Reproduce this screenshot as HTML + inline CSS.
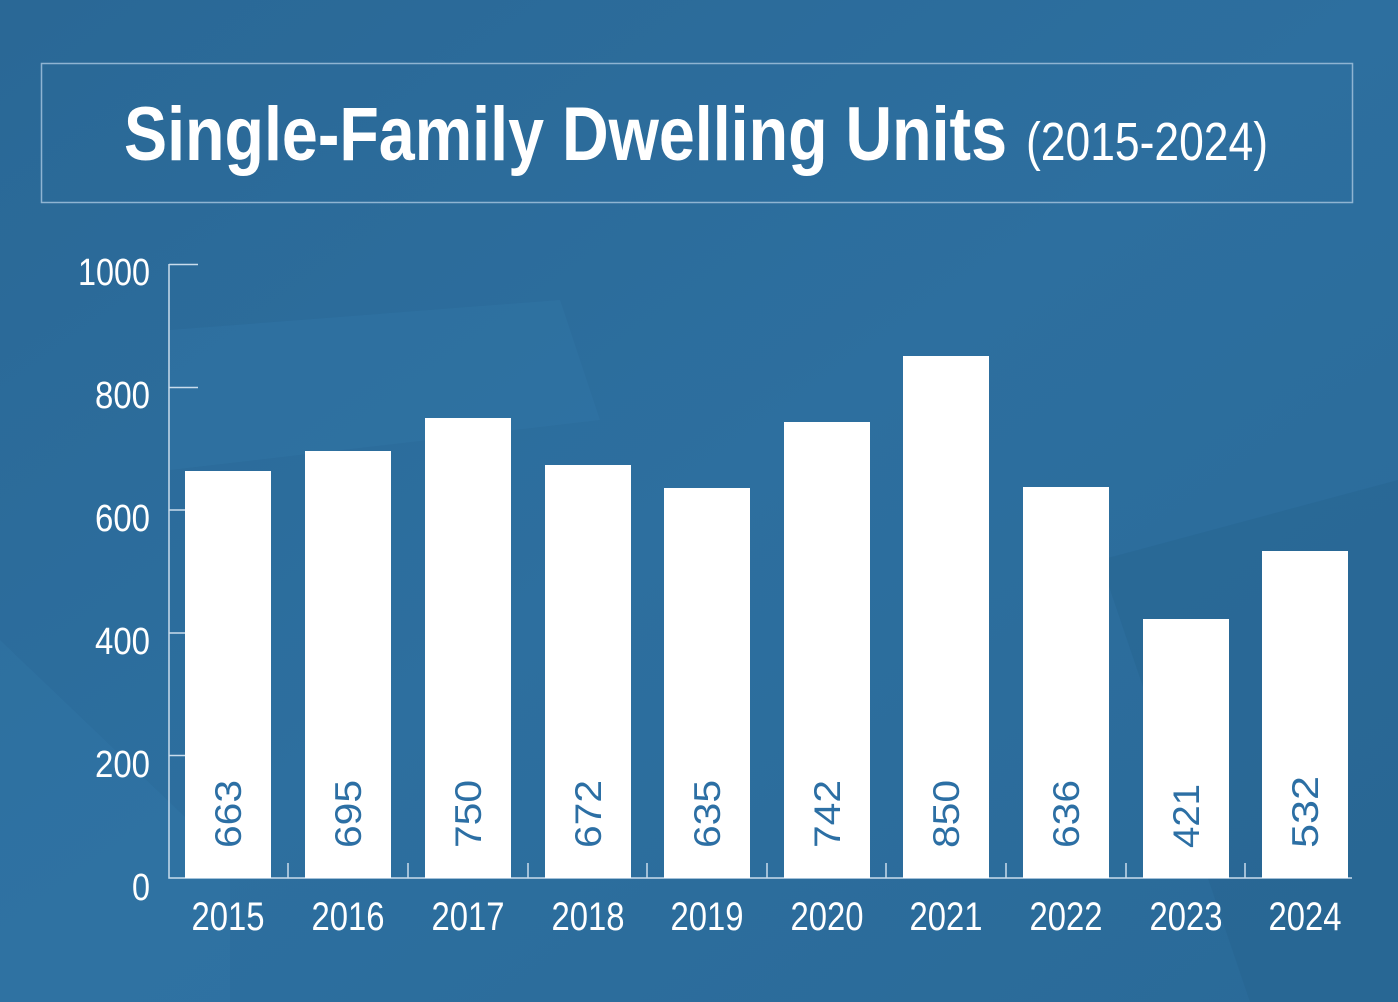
<!DOCTYPE html>
<html><head><meta charset="utf-8"><style>
html,body{margin:0;padding:0;}
body{width:1398px;height:1002px;overflow:hidden;background:#2b6c9b;}
svg{display:block;}
</style></head><body>
<svg width="1398" height="1002" xmlns="http://www.w3.org/2000/svg" font-family="Liberation Sans, sans-serif">
<defs>
<linearGradient id="bg" x1="0" y1="0" x2="1" y2="1">
<stop offset="0" stop-color="#2a6896"/>
<stop offset="0.5" stop-color="#2d6f9f"/>
<stop offset="1" stop-color="#2a6a98"/>
</linearGradient>
</defs>
<rect width="1398" height="1002" fill="url(#bg)"/>
<path d="M0 640 L230 860 L230 1002 L0 1002Z" fill="#3379aa" opacity="0.35"/>
<path d="M170 330 L560 300 L600 420 L170 470Z" fill="#3478a8" opacity="0.35"/>
<path d="M1100 560 L1398 480 L1398 1002 L1250 1002Z" fill="#25608c" opacity="0.35"/>
<rect x="41.5" y="63.5" width="1311" height="139" fill="none" stroke="#8fb4d2" stroke-width="1.5"/>
<text x="124" y="160" font-size="76" font-weight="bold" fill="#fff" textLength="883" lengthAdjust="spacingAndGlyphs">Single-Family Dwelling Units</text>
<text x="1026" y="160" font-size="54" fill="#fff" textLength="242" lengthAdjust="spacingAndGlyphs">(2015-2024)</text>
<g fill="#fff" font-size="38" text-anchor="end">
<text x="150" y="285" textLength="72" lengthAdjust="spacingAndGlyphs">1000</text>
<text x="150" y="408" textLength="55" lengthAdjust="spacingAndGlyphs">800</text>
<text x="150" y="531" textLength="55" lengthAdjust="spacingAndGlyphs">600</text>
<text x="150" y="654" textLength="55" lengthAdjust="spacingAndGlyphs">400</text>
<text x="150" y="777" textLength="55" lengthAdjust="spacingAndGlyphs">200</text>
<text x="150" y="900" textLength="18" lengthAdjust="spacingAndGlyphs">0</text>
</g>
<g stroke="#c9dcec" stroke-width="1.5" fill="none">
<path d="M169 264 V878 H1352"/>
<path d="M169 264.5 H198 M169 387.5 H198 M169 510 H198 M169 633 H198 M169 755.5 H198"/>
<path d="M288 878 V863 M408 878 V863 M528 878 V863 M647 878 V863 M767 878 V863 M886 878 V863 M1006 878 V863 M1126 878 V863 M1245 878 V863"/>
</g>
<g fill="#fff">
<rect x="185" y="471" width="86" height="407"/>
<rect x="305" y="451" width="86" height="427"/>
<rect x="425" y="418" width="86" height="460"/>
<rect x="545" y="465" width="86" height="413"/>
<rect x="664" y="488" width="86" height="390"/>
<rect x="784" y="422" width="86" height="456"/>
<rect x="903" y="356" width="86" height="522"/>
<rect x="1023" y="487" width="86" height="391"/>
<rect x="1143" y="619" width="86" height="259"/>
<rect x="1262" y="551" width="86" height="327"/>
</g>
<g fill="#2c6fa4" font-size="37">
<text transform="translate(241,848) rotate(-90)" textLength="68" lengthAdjust="spacingAndGlyphs">663</text>
<text transform="translate(361,848) rotate(-90)" textLength="68" lengthAdjust="spacingAndGlyphs">695</text>
<text transform="translate(481,848) rotate(-90)" textLength="68" lengthAdjust="spacingAndGlyphs">750</text>
<text transform="translate(601,848) rotate(-90)" textLength="68" lengthAdjust="spacingAndGlyphs">672</text>
<text transform="translate(720,848) rotate(-90)" textLength="68" lengthAdjust="spacingAndGlyphs">635</text>
<text transform="translate(840,848) rotate(-90)" textLength="68" lengthAdjust="spacingAndGlyphs">742</text>
<text transform="translate(959,848) rotate(-90)" textLength="68" lengthAdjust="spacingAndGlyphs">850</text>
<text transform="translate(1079,848) rotate(-90)" textLength="68" lengthAdjust="spacingAndGlyphs">636</text>
<text transform="translate(1199,848) rotate(-90)" textLength="64" lengthAdjust="spacingAndGlyphs">421</text>
<text transform="translate(1318,848) rotate(-90)" textLength="72" lengthAdjust="spacingAndGlyphs">532</text>
</g>
<g fill="#fff" font-size="40" text-anchor="middle">
<text x="228" y="930" textLength="73" lengthAdjust="spacingAndGlyphs">2015</text>
<text x="348" y="930" textLength="73" lengthAdjust="spacingAndGlyphs">2016</text>
<text x="468" y="930" textLength="73" lengthAdjust="spacingAndGlyphs">2017</text>
<text x="588" y="930" textLength="73" lengthAdjust="spacingAndGlyphs">2018</text>
<text x="707" y="930" textLength="73" lengthAdjust="spacingAndGlyphs">2019</text>
<text x="827" y="930" textLength="73" lengthAdjust="spacingAndGlyphs">2020</text>
<text x="946" y="930" textLength="73" lengthAdjust="spacingAndGlyphs">2021</text>
<text x="1066" y="930" textLength="73" lengthAdjust="spacingAndGlyphs">2022</text>
<text x="1186" y="930" textLength="73" lengthAdjust="spacingAndGlyphs">2023</text>
<text x="1305" y="930" textLength="73" lengthAdjust="spacingAndGlyphs">2024</text>
</g>
</svg>
</body></html>
